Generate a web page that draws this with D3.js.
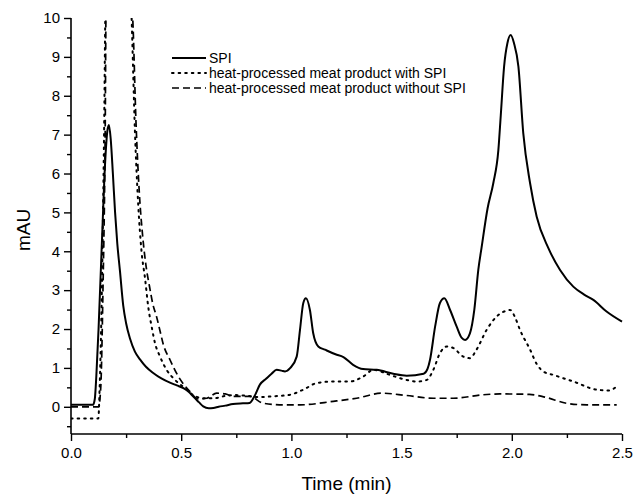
<!DOCTYPE html>
<html>
<head>
<meta charset="utf-8">
<script src="https://cdn.jsdelivr.net/npm/d3@7"></script>
<style>
  html, body { margin: 0; padding: 0; background: #fff; }
  svg { display: block; font-family: "Liberation Sans", Arial, sans-serif; }
</style>
</head>
<body>
<svg id="chart" width="635" height="496"></svg>
<script>
// ---- Data (time in min, absorbance in mAU); values above 10 are off-scale and clipped ----
const spiTime = [0, 0.1, 0.108, 0.115, 0.125, 0.14, 0.155, 0.165, 0.172, 0.18, 0.19, 0.2, 0.21, 0.222, 0.237, 0.25, 0.268, 0.29, 0.313, 0.34, 0.373, 0.41, 0.449, 0.48, 0.51, 0.535, 0.555, 0.58, 0.6, 0.625, 0.646, 0.67, 0.7, 0.735, 0.78, 0.81, 0.835, 0.857, 0.885, 0.91, 0.933, 0.955, 0.971, 0.995, 1.024, 1.039, 1.054, 1.066, 1.084, 1.099, 1.122, 1.152, 1.2, 1.236, 1.28, 1.325, 1.387, 1.462, 1.523, 1.6, 1.618, 1.629, 1.652, 1.674, 1.694, 1.72, 1.75, 1.773, 1.788, 1.81, 1.83, 1.848, 1.863, 1.89, 1.916, 1.939, 1.95, 1.965, 1.98, 1.995, 2.01, 2.03, 2.052, 2.083, 2.113, 2.166, 2.219, 2.279, 2.33, 2.37, 2.43, 2.5];
const spiValue = [0.05, 0.05, 0.2, 0.8, 2.0, 4.2, 6.3, 7.1, 7.25, 6.9, 6.0, 5.0, 4.2, 3.5, 2.6, 2.15, 1.75, 1.42, 1.22, 1.03, 0.87, 0.73, 0.62, 0.55, 0.48, 0.38, 0.26, 0.12, 0.01, -0.04, -0.03, 0.0, 0.03, 0.07, 0.09, 0.1, 0.3, 0.57, 0.72, 0.85, 0.95, 0.93, 0.91, 1.0, 1.29, 1.98, 2.67, 2.79, 2.49, 1.89, 1.55, 1.47, 1.35, 1.28, 1.08, 0.97, 0.95, 0.85, 0.8, 0.85, 0.98, 1.21, 2.06, 2.67, 2.79, 2.49, 2.06, 1.77, 1.72, 1.89, 2.5, 3.52, 4.1, 5.1, 5.75, 6.6, 7.5, 8.75, 9.35, 9.56, 9.35, 8.75, 7.04, 5.75, 4.89, 4.08, 3.52, 3.09, 2.88, 2.75, 2.45, 2.19];

const withTime = [0, 0.124, 0.13, 0.14, 0.15, 0.157, 0.16, 0.27, 0.275, 0.29, 0.305, 0.32, 0.336, 0.351, 0.366, 0.381, 0.404, 0.434, 0.472, 0.517, 0.555, 0.6, 0.65, 0.7, 0.75, 0.8, 0.85, 0.918, 0.994, 1.054, 1.115, 1.19, 1.266, 1.326, 1.372, 1.447, 1.523, 1.568, 1.614, 1.644, 1.674, 1.705, 1.735, 1.78, 1.81, 1.84, 1.886, 1.931, 1.965, 1.992, 2.015, 2.037, 2.083, 2.113, 2.145, 2.188, 2.279, 2.385, 2.44, 2.476];
const withValue = [-0.3, -0.3, 0.5, 3.0, 7.0, 10.5, 10.8, 10.8, 10.0, 7.1, 5.2, 4.0, 3.3, 2.55, 2.06, 1.64, 1.29, 0.95, 0.69, 0.48, 0.3, 0.22, 0.22, 0.28, 0.3, 0.28, 0.25, 0.27, 0.31, 0.44, 0.61, 0.65, 0.65, 0.78, 0.95, 0.82, 0.69, 0.65, 0.69, 0.95, 1.38, 1.55, 1.51, 1.29, 1.25, 1.47, 1.98, 2.32, 2.45, 2.49, 2.3, 1.98, 1.47, 1.1, 0.9, 0.82, 0.65, 0.44, 0.42, 0.52];

const withoutTime = [0, 0.125, 0.135, 0.145, 0.155, 0.16, 0.27, 0.28, 0.295, 0.31, 0.325, 0.341, 0.356, 0.371, 0.389, 0.404, 0.419, 0.449, 0.487, 0.54, 0.578, 0.616, 0.661, 0.7, 0.736, 0.81, 0.873, 0.963, 1.04, 1.19, 1.296, 1.41, 1.523, 1.644, 1.735, 1.871, 1.946, 2.08, 2.15, 2.249, 2.34, 2.476];
const withoutValue = [0.0, 0.0, 0.5, 3.0, 7.0, 10.8, 10.8, 10.0, 7.3, 5.5, 4.4, 3.6, 3.1, 2.65, 2.3, 1.95, 1.6, 1.21, 0.78, 0.39, 0.2, 0.22, 0.35, 0.33, 0.27, 0.27, 0.09, 0.05, 0.05, 0.14, 0.22, 0.35, 0.29, 0.22, 0.22, 0.31, 0.33, 0.32, 0.25, 0.09, 0.05, 0.05];

const seriesNames = ["SPI", "heat-processed meat product with SPI", "heat-processed meat product without SPI"];
const xTickValues = [0, 0.5, 1.0, 1.5, 2.0, 2.5];
const yTickValues = [0, 1, 2, 3, 4, 5, 6, 7, 8, 9, 10];
const xLabel = "Time (min)";
const yLabel = "mAU";

// ---- Layout ----
const svg = d3.select("#chart");
const plotLeft = 71, plotRight = 622, plotTop = 18, plotBottom = 434;

const x = d3.scaleLinear().domain([0, 2.5]).range([plotLeft, plotRight]);
const y = d3.scaleLinear().domain([-0.7, 10]).range([plotBottom, plotTop]);

const styles = [
  { width: 2, dash: null },
  { width: 2, dash: "1.6,5" },
  { width: 1.7, dash: "7,4" }
];

const seriesData = [
  d3.zip(spiTime, spiValue),
  d3.zip(withTime, withValue),
  d3.zip(withoutTime, withoutValue)
];

svg.append("clipPath").attr("id", "plotclip")
  .append("rect").attr("x", plotLeft).attr("y", plotTop)
  .attr("width", plotRight - plotLeft + 2).attr("height", plotBottom - plotTop);

const line = d3.line()
  .x(d => x(d[0]))
  .y(d => y(d[1]))
  .curve(d3.curveMonotoneX);

const g = svg.append("g").attr("clip-path", "url(#plotclip)");
seriesData.forEach((data, i) => {
  g.append("path")
    .datum(data)
    .attr("fill", "none")
    .attr("stroke", "#000")
    .attr("stroke-width", styles[i].width)
    .attr("stroke-dasharray", styles[i].dash)
    .attr("stroke-linejoin", "round")
    .attr("stroke-linecap", i === 1 ? "round" : "butt")
    .attr("d", line);
});

// ---- Axes ----
const xMinor = d3.range(0.25, 2.5, 0.5);
const yMinor = d3.range(-0.5, 10, 1);

const xAxis = svg.append("g").attr("transform", `translate(0,${plotBottom})`)
  .call(d3.axisBottom(x).tickValues(xTickValues).tickFormat(d3.format(".1f")).tickSize(7).tickPadding(6));
svg.append("g").attr("transform", `translate(0,${plotBottom})`)
  .call(d3.axisBottom(x).tickValues(xMinor).tickFormat("").tickSize(4))
  .select(".domain").remove();

const yAxis = svg.append("g").attr("transform", `translate(${plotLeft},0)`)
  .call(d3.axisLeft(y).tickValues(yTickValues).tickFormat(d3.format("d")).tickSize(7).tickPadding(4));
svg.append("g").attr("transform", `translate(${plotLeft},0)`)
  .call(d3.axisLeft(y).tickValues(yMinor).tickFormat("").tickSize(4))
  .select(".domain").remove();

[xAxis, yAxis].forEach(a => {
  a.select(".domain").attr("stroke-width", 1.6);
  a.selectAll("text").attr("font-size", 15).attr("fill", "#000")
    .attr("font-family", "Liberation Sans, Arial, sans-serif");
});
xAxis.select(".domain").attr("d", `M${plotLeft},0H${plotRight}`);
yAxis.select(".domain").attr("d", `M0,${plotTop}V${plotBottom}`);
svg.selectAll(".tick line").attr("stroke", "#000").attr("stroke-width", 1.4);

// Axis titles
svg.append("text")
  .attr("x", (plotLeft + plotRight) / 2).attr("y", 490)
  .attr("text-anchor", "middle").attr("font-size", 19).attr("fill", "#000")
  .text(xLabel);
svg.append("text")
  .attr("transform", `translate(30,${(plotTop + plotBottom) / 2 + 4}) rotate(-90)`)
  .attr("text-anchor", "middle").attr("font-size", 19).attr("fill", "#000")
  .text(yLabel);

// ---- Legend ----
const legend = svg.append("g");
seriesNames.forEach((name, i) => {
  const ly = 58 + i * 15;
  legend.append("line")
    .attr("x1", 172).attr("x2", 206).attr("y1", ly).attr("y2", ly)
    .attr("stroke", "#000").attr("stroke-width", styles[i].width)
    .attr("stroke-dasharray", styles[i].dash)
    .attr("stroke-linecap", i === 1 ? "round" : "butt");
  legend.append("text")
    .attr("x", 209).attr("y", ly + 5)
    .attr("font-size", 14).attr("fill", "#000")
    .text(name);
});
</script>
</body>
</html>
